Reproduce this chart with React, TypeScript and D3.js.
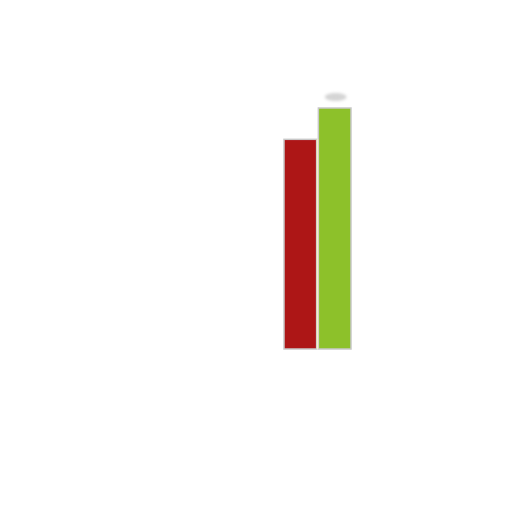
import React from "react";
import * as d3 from "d3";

const categories = ["A", "B"];
const values = [87, 100];
const barColors = ["#ad1418", "#8dc12b"];

const width = 512;
const height = 512;

export default function App() {
	const x = d3.scaleBand<string>()
		.domain(categories)
		.range([284, 351])
		.paddingInner(0.05);

	const y = d3.scaleLinear()
		.domain([0, 100])
		.range([349, 108]);

	return (
		<svg
			width={width}
			height={height}
			style={{ position: "absolute", left: 0, top: 0, background: "#ffffff" }}
		>
			<defs>
				<filter id="soft" x="-20%" y="-20%" width="140%" height="140%">
					<feGaussianBlur stdDeviation="0.7" />
				</filter>
				<filter id="blob" x="-50%" y="-50%" width="200%" height="200%">
					<feGaussianBlur stdDeviation="1.5" />
				</filter>
			</defs>
			<g filter="url(#soft)">
				{categories.map((cat, i) => (
					<rect
						key={cat}
						x={x(cat)}
						y={y(values[i])}
						width={x.bandwidth()}
						height={y(0) - y(values[i])}
						fill={barColors[i]}
						stroke="#c8c8c8"
						strokeWidth={1.5}
					/>
				))}
				<line
					x1={(x("A")! + x.bandwidth() + x("B")!) / 2}
					x2={(x("A")! + x.bandwidth() + x("B")!) / 2}
					y1={y(values[0])}
					y2={y(0)}
					stroke="#f6efc8"
					strokeWidth={1.5}
				/>
			</g>
			<ellipse
				cx={x("B")! + x.bandwidth() / 2 + 1}
				cy={y(values[1]) - 11}
				rx={11}
				ry={4}
				fill="#d4d4d4"
				filter="url(#blob)"
			/>
		</svg>
	);
}
